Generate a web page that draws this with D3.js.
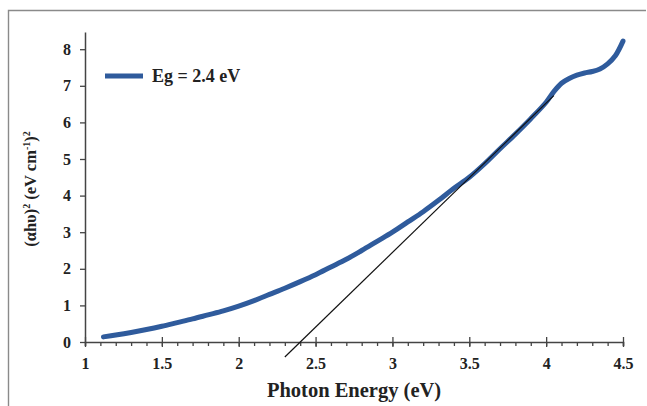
<!DOCTYPE html>
<html lang="en">
  <head>
    <meta charset="utf-8" />
    <title>Tauc plot</title>
    <script src="https://cdn.jsdelivr.net/npm/d3@7"></script>
    <style>
      body { margin: 0; background: #fff; }
    </style>
  </head>
  <body>
    <svg id="chart" width="647" height="406"></svg>
    <script>
      // photon energy (eV) and (αhυ)²
      const energy = [1.12, 1.2, 1.3, 1.4, 1.5, 1.6, 1.7, 1.8, 1.9, 2.0, 2.1, 2.2, 2.3, 2.4, 2.5, 2.6, 2.7, 2.8, 2.9, 3.0,
        3.1, 3.2, 3.3, 3.4, 3.5, 3.6, 3.7, 3.8, 3.9, 4.0, 4.05, 4.1, 4.15, 4.2, 4.25, 4.3, 4.35, 4.4, 4.45, 4.5];
      const ahv2 = [0.14, 0.19, 0.26, 0.34, 0.43, 0.53, 0.63, 0.74, 0.85, 0.98, 1.13, 1.3, 1.47, 1.65, 1.84, 2.05, 2.26, 2.5, 2.75, 3.0,
        3.28, 3.56, 3.87, 4.2, 4.5, 4.87, 5.28, 5.68, 6.1, 6.55, 6.84, 7.07, 7.2, 7.29, 7.35, 7.39, 7.46, 7.6, 7.82, 8.22];
      // tangent extrapolation to the energy axis
      const fitX = [2.3, 4.05];
      const fitY = [-0.41, 6.73];
      const xTicks = [1, 1.5, 2, 2.5, 3, 3.5, 4, 4.5];
      const yTicks = [0, 1, 2, 3, 4, 5, 6, 7, 8];
      const legendLabel = "Eg = 2.4 eV";

      const serif = "'Liberation Serif', 'Times New Roman', serif";
      const svg = d3.select("#chart").attr("font-family", serif);

      // outer frame (left and top edges visible; bottom sits at the window edge)
      svg.append("path")
        .attr("d", "M646,10.5 H8.5 V406")
        .attr("fill", "none").attr("stroke", "#8a8a8a").attr("stroke-width", 1.4);

      const margin = { top: 32, right: 24, bottom: 64, left: 85 };
      const innerWidth = 647 - margin.left - margin.right;
      const innerHeight = 406 - margin.top - margin.bottom;

      const g = svg.append("g").attr("transform", `translate(${margin.left}, ${margin.top})`);

      const x = d3.scaleLinear().domain([1, 4.5]).range([0, innerWidth]);
      const y = d3.scaleLinear().domain([0, 8.47]).range([innerHeight, 0]);

      // x axis: minor ticks below, major ticks crossing the line
      const xMinor = g.append("g").attr("transform", `translate(0, ${innerHeight})`);
      xMinor.call(d3.axisBottom(x).tickValues(d3.range(1, 4.501, 0.1)).tickSize(4).tickFormat(""));
      xMinor.selectAll(".tick text").remove();
      xMinor.selectAll(".tick line").attr("stroke", "#444").attr("stroke-width", 1.3);
      xMinor.select(".domain").attr("stroke", "#444").attr("stroke-width", 1.5);

      const xMajor = g.append("g").attr("transform", `translate(0, ${innerHeight})`)
        .call(d3.axisBottom(x).tickValues(xTicks).tickSizeInner(5).tickSizeOuter(0).tickPadding(11).tickFormat(d3.format("")));
      xMajor.select(".domain").remove();
      xMajor.selectAll(".tick line").attr("y1", -5).attr("stroke", "#444").attr("stroke-width", 1.3);
      xMajor.selectAll("text")
        .attr("font-family", serif)
        .attr("font-size", "16px").attr("font-weight", "700").attr("fill", "#222");

      const yAxis = g.append("g")
        .call(d3.axisLeft(y).tickValues(yTicks).tickSizeInner(5).tickSizeOuter(0).tickPadding(9));
      yAxis.select(".domain").attr("stroke", "#444").attr("stroke-width", 1.5);
      yAxis.selectAll(".tick line").attr("stroke", "#444").attr("stroke-width", 1.3);
      yAxis.selectAll("text")
        .attr("font-family", serif)
        .attr("font-size", "16px").attr("font-weight", "700").attr("fill", "#222");

      // data curve
      const pts = energy.map((e, i) => [e, ahv2[i]]);
      const line = d3.line().x(d => x(d[0])).y(d => y(d[1])).curve(d3.curveCatmullRom);
      g.append("path")
        .datum(pts)
        .attr("d", line)
        .attr("fill", "none")
        .attr("stroke", "#2f5b9c")
        .attr("stroke-width", 5)
        .attr("stroke-linecap", "round");

      // tangent line
      g.append("path")
        .datum(fitX.map((e, i) => [e, fitY[i]]))
        .attr("d", d3.line().x(d => x(d[0])).y(d => y(d[1])))
        .attr("stroke", "#111")
        .attr("stroke-width", 1.2);

      // legend
      const legend = g.append("g").attr("transform", "translate(20, 44)");
      legend.append("line")
        .attr("x1", 0).attr("x2", 38)
        .attr("stroke", "#2f5b9c").attr("stroke-width", 5);
      legend.append("text")
        .attr("x", 47).attr("y", 6)
        .attr("font-size", "18px").attr("font-weight", "700").attr("fill", "#222")
        .text(legendLabel);

      // axis titles
      svg.append("text")
        .attr("x", 354).attr("y", 397)
        .attr("text-anchor", "middle")
        .attr("font-size", "20.5px").attr("font-weight", "700").attr("fill", "#222")
        .text("Photon Energy (eV)");

      const yTitle = svg.append("text")
        .attr("transform", "translate(36, 189) rotate(-90)")
        .attr("text-anchor", "middle")
        .attr("font-size", "16.5px").attr("font-weight", "700").attr("fill", "#222");
      yTitle.append("tspan").text("(αhυ)");
      yTitle.append("tspan").attr("dy", -6).attr("font-size", "10px").text("2");
      yTitle.append("tspan").attr("dy", 6).text(" (eV cm");
      yTitle.append("tspan").attr("dy", -6).attr("font-size", "10px").text("-1");
      yTitle.append("tspan").attr("dy", 6).text(")");
      yTitle.append("tspan").attr("dy", -6).attr("font-size", "10px").text("2");
    </script>
  </body>
</html>
